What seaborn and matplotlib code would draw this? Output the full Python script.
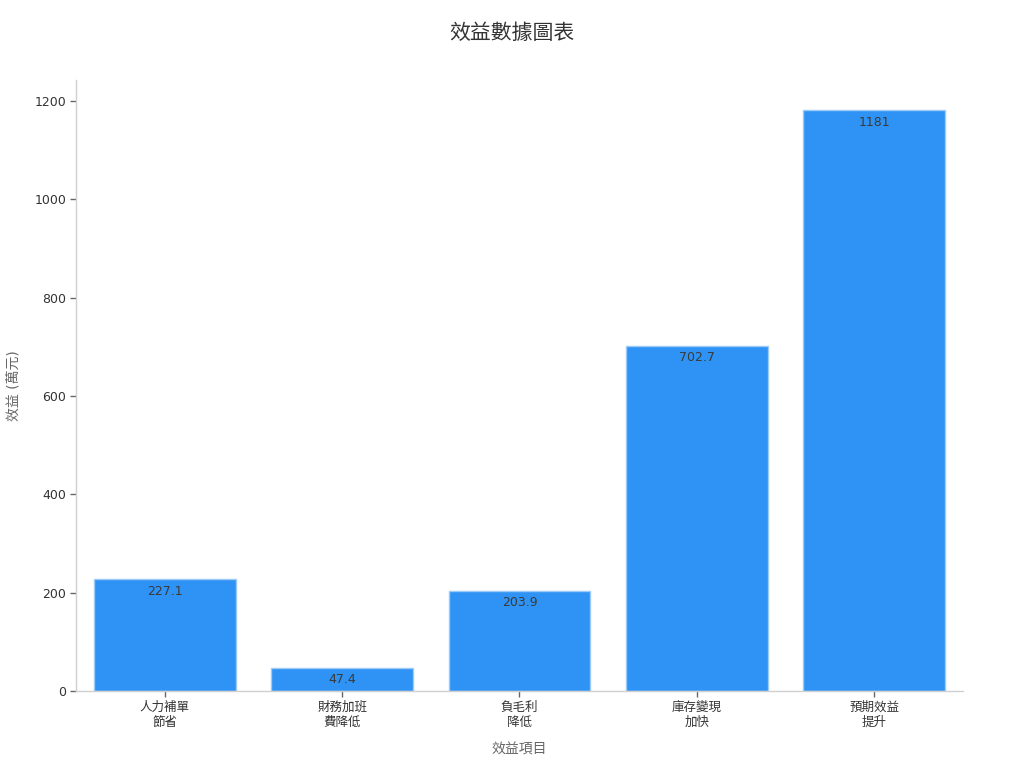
import matplotlib
matplotlib.use("Agg")
import matplotlib.pyplot as plt
import seaborn as sns
import pandas as pd

categories = ["人力補單\n節省", "財務加班\n費降低", "負毛利\n降低", "庫存變現\n加快", "預期效益\n提升"]
values = [227.1, 47.4, 203.9, 702.7, 1181]
value_labels = ["227.1", "47.4", "203.9", "702.7", "1181"]

sns.set_theme(style="white")
plt.rcParams['font.family'] = ['DejaVu Sans', 'Noto Sans CJK TC']

df = pd.DataFrame({"cat": categories, "val": values})

fig = plt.figure(figsize=(10.24, 7.68), dpi=100)
ax = fig.add_axes([0.0742, 0.1003, 0.8662, 0.7955])
sns.barplot(data=df, x="cat", y="val", color="#2E93F5", saturation=1, width=0.8,
            edgecolor="#9CCBF7", linewidth=1, ax=ax)

for p, lab in zip(ax.patches, value_labels):
    ax.annotate(lab, (p.get_x() + p.get_width() / 2, p.get_height()),
                xytext=(0, -4), textcoords="offset points", ha="center", va="top",
                fontsize=9, color="#3a3a3a")

ax.set_xlim(-0.5, 4.5)
ax.set_ylim(0, 1243)
ax.set_yticks([0, 200, 400, 600, 800, 1000, 1200])
for s in ["top", "right"]:
    ax.spines[s].set_visible(False)
for s in ["left", "bottom"]:
    ax.spines[s].set_color("#d0d0d0")
    ax.spines[s].set_linewidth(1)
ax.tick_params(axis="both", which="both", length=4, width=1, color="#666666",
               labelsize=9, labelcolor="#333333", bottom=True, left=True, pad=3)
ax.set_xlabel("效益項目", fontsize=10, color="#666666", labelpad=10)
ax.set_ylabel("效益 (萬元)", fontsize=10, color="#666666", labelpad=10)
fig.suptitle("效益數據圖表", fontsize=15, color="#333333", y=0.97)

fig.savefig("out.png", dpi=100)
